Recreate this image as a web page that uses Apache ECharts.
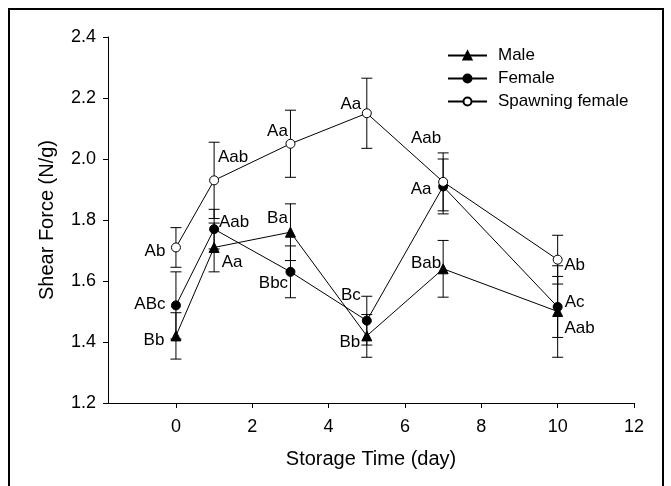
<!DOCTYPE html>
<html>
<head>
<meta charset="utf-8">
<script src="https://cdn.jsdelivr.net/npm/echarts@6/dist/echarts.min.js"></script>
<style>
  html, body { margin: 0; padding: 0; background: #fff; }
  #chart { width: 671px; height: 486px; }
</style>
</head>
<body>
<div id="chart"></div>
<script>
// storage days
var days = [0, 1, 3, 5, 7, 10];
var xTicks = [0, 2, 4, 6, 8, 10, 12];

// shear force means and error (N/g)
var male = [1.42, 1.71, 1.76, 1.42, 1.64, 1.50];
var maleErr = [0.076, 0.08, 0.093, 0.07, 0.093, 0.15];
var female = [1.52, 1.77, 1.63, 1.47, 1.91, 1.515];
var femaleErr = [0.11, 0.065, 0.085, 0.08, 0.09, 0.10];
var spawn = [1.71, 1.93, 2.05, 2.15, 1.925, 1.67];
var spawnErr = [0.065, 0.125, 0.11, 0.115, 0.095, 0.08];

// significance letters
var maleLabels = ['Bb', 'Aa', 'Ba', 'Bb', 'Bab', 'Aab'];
var femaleLabels = ['ABc', 'Aab', 'Bbc', 'Bc', 'Aa', 'Ac'];
var spawnLabels = ['Ab', 'Aab', 'Aa', 'Aa', 'Aab', 'Ab'];

// where each letter sits relative to its point (px)
var maleOff = [[-22, 4], [18, 15], [-13, -14], [-17, 6], [-17, -5], [22, 17]];
var femaleOff = [[-26, -1], [20, -7], [-17, 11], [-16, -25], [-22, 3], [17, -5]];
var spawnOff = [[-21, 4], [19, -23], [-13, -12], [-16, -9], [-17, -44], [17, 6]];

var chart = echarts.init(document.getElementById('chart'));
var font = 'Liberation Sans, Arial, Helvetica, sans-serif';

function points(vals, labels, offs) {
    return vals.map(function (v, i) {
        return {
            value: [days[i], v],
            label: { formatter: labels[i], offset: offs[i] }
        };
    });
}

function bars(vals, errs) {
    return vals.map(function (v, i) {
        return [days[i], v - errs[i], v + errs[i]];
    });
}

function renderErr(params, api) {
    var x = api.value(0);
    var lo = api.coord([x, api.value(1)]);
    var hi = api.coord([x, api.value(2)]);
    var w = 5.5;
    var st = { stroke: '#000', lineWidth: 1 };
    return {
        type: 'group',
        children: [
            { type: 'line', shape: { x1: lo[0], y1: lo[1], x2: hi[0], y2: hi[1] }, style: st },
            { type: 'line', shape: { x1: lo[0] - w, y1: lo[1], x2: lo[0] + w, y2: lo[1] }, style: st },
            { type: 'line', shape: { x1: hi[0] - w, y1: hi[1], x2: hi[0] + w, y2: hi[1] }, style: st }
        ]
    };
}

function lineSeries(name, vals, labels, offs, symbol, size, fill) {
    return {
        name: name,
        type: 'line',
        z: 5,
        symbol: symbol,
        symbolSize: size,
        showAllSymbol: true,
        lineStyle: { color: '#000', width: 1 },
        itemStyle: { color: fill, borderColor: '#000', borderWidth: 1 },
        label: {
            show: true,
            position: 'inside',
            align: 'center',
            verticalAlign: 'middle',
            color: '#000',
            fontFamily: font,
            fontSize: 17
        },
        emphasis: { disabled: true },
        data: points(vals, labels, offs)
    };
}

function errSeries(name, vals, errs) {
    return {
        name: name,
        type: 'custom',
        z: 2,
        renderItem: renderErr,
        encode: { x: 0, y: [1, 2] },
        silent: true,
        data: bars(vals, errs)
    };
}

chart.setOption({
    animation: false,
    backgroundColor: '#fff',
    graphic: [{
        type: 'rect',
        shape: { x: 9, y: 9, width: 654, height: 485 },
        style: { fill: 'none', stroke: '#000', lineWidth: 2 },
        z: 0
    }],
    legend: {
        orient: 'vertical',
        left: 442,
        top: 42,
        itemWidth: 39,
        itemHeight: 10,
        itemGap: 6,
        data: ['Male', 'Female', 'Spawning female'],
        textStyle: { color: '#000', fontFamily: font, fontSize: 17, padding: [0, 0, 0, 6] }
    },
    grid: { left: 108, right: 37, top: 37, bottom: 83 },
    xAxis: {
        type: 'value',
        min: -1.78,
        max: 12,
        name: 'Storage Time (day)',
        nameLocation: 'middle',
        nameGap: 46,
        nameTextStyle: { color: '#000', fontFamily: font, fontSize: 20 },
        axisLine: { onZero: false, lineStyle: { color: '#000', width: 1 } },
        axisTick: { inside: false, length: 5, customValues: xTicks, lineStyle: { color: '#000' } },
        axisLabel: { color: '#000', fontFamily: font, fontSize: 18, margin: 15, customValues: xTicks },
        splitLine: { show: false }
    },
    yAxis: {
        type: 'value',
        min: 1.2,
        max: 2.4,
        interval: 0.2,
        name: 'Shear Force (N/g)',
        nameLocation: 'middle',
        nameGap: 51,
        nameTextStyle: { color: '#000', fontFamily: font, fontSize: 20 },
        axisLine: { show: true, onZero: false, lineStyle: { color: '#000', width: 1 } },
        axisTick: { show: true, length: 5, lineStyle: { color: '#000' } },
        axisLabel: {
            color: '#000', fontFamily: font, fontSize: 18, margin: 12,
            formatter: function (v) { return v.toFixed(1); }
        },
        splitLine: { show: false }
    },
    series: [
        errSeries('Male err', male, maleErr),
        errSeries('Female err', female, femaleErr),
        errSeries('Spawning err', spawn, spawnErr),
        lineSeries('Male', male, maleLabels, maleOff, 'triangle', 10, '#000'),
        lineSeries('Female', female, femaleLabels, femaleOff, 'circle', 9, '#000'),
        lineSeries('Spawning female', spawn, spawnLabels, spawnOff, 'circle', 9, '#fff')
    ]
});
</script>
</body>
</html>
